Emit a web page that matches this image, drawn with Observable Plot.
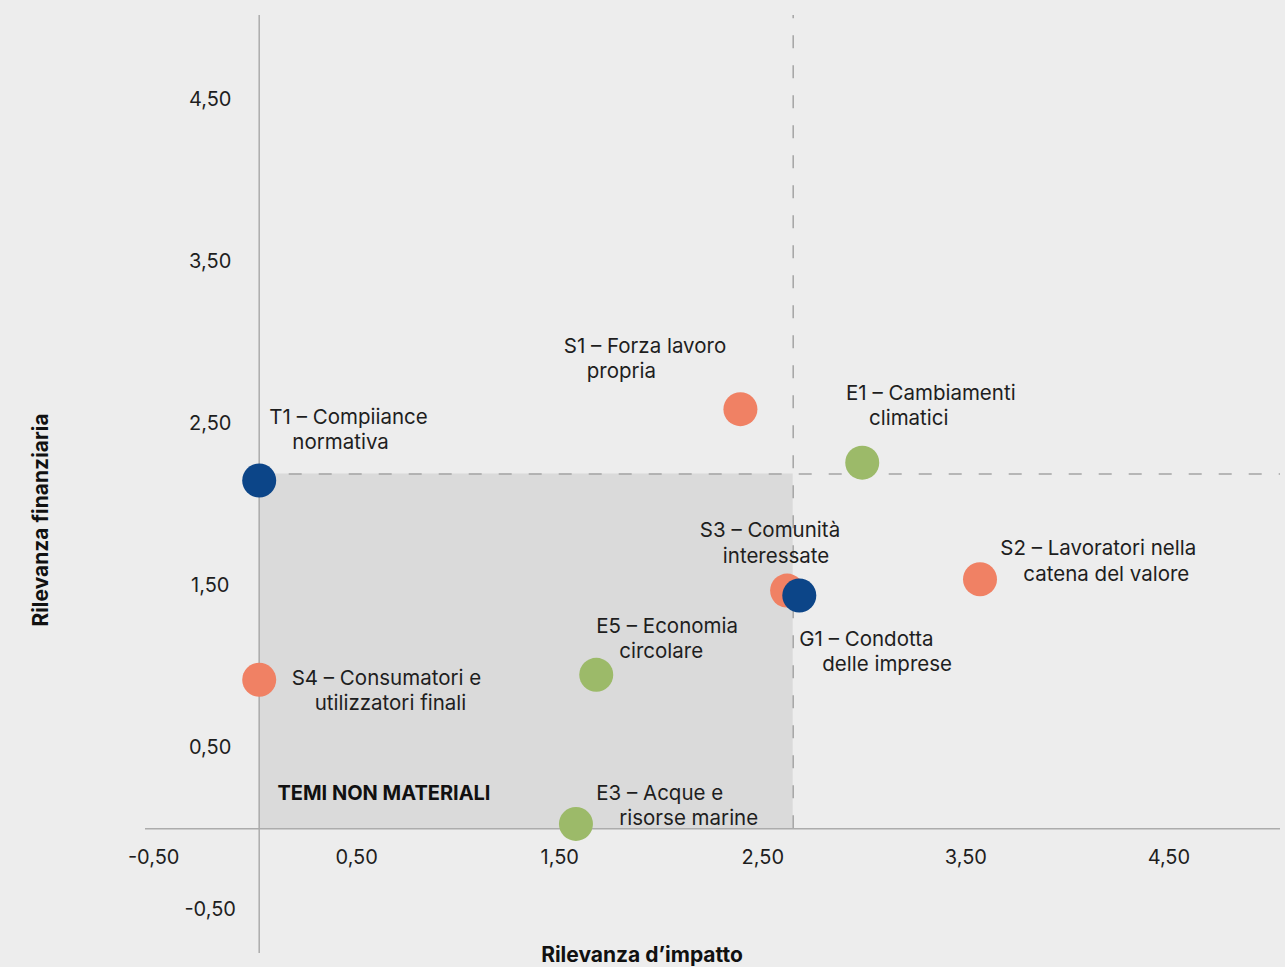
<!DOCTYPE html>
<html><head><meta charset="utf-8">
<script src="https://cdn.jsdelivr.net/npm/d3@7"></script>
<script src="https://cdn.jsdelivr.net/npm/@observablehq/plot@0.6"></script>
<style>
html,body{margin:0;padding:0;background:#ededed;}
#chart svg{display:block;}
</style></head><body><div id="chart"></div>
<script>
// Topics
const codes   = ["T1","S1","E1","S3","G1","S2","S4","E5","E3"];
const groups  = ["T","S","E","S","G","S","S","E","E"];
const line1   = ["T1 – Compiiance","S1 – Forza lavoro","E1 – Cambiamenti","S3 – Comunità","G1 – Condotta","S2 – Lavoratori nella","S4 – Consumatori e","E5 – Economia","E3 – Acque e"];
const line2   = ["normativa","propria","climatici","interessate","delle imprese","catena del valore","utilizzatori finali","circolare","risorse marine"];
// Rilevanza d'impatto (x) and Rilevanza finanziaria (y)
const impatto     = [0.00, 2.37, 2.97, 2.60, 2.66, 3.55, 0.00, 1.66, 1.56];
const finanziaria = [2.15, 2.59, 2.26, 1.47, 1.44, 1.54, 0.92, 0.95, 0.03];
// label anchor (data units)
const labelX = [0.05, 1.50, 2.89, 2.17, 2.66, 3.65, 0.16, 1.66, 1.66];
const labelY = [2.54, 2.98, 2.69, 1.84, 1.17, 1.73, 0.93, 1.25, 0.22];
// materiality thresholds
const thresholdX = 2.63;
const thresholdY = 2.19;
// axis extent
const xDomain = [-0.56, 5.03];
const yDomain = [-0.77, 5.02];
const xTicks = [-0.5, 0.5, 1.5, 2.5, 3.5, 4.5];
const yTicks = [-0.5, 0.5, 1.5, 2.5, 3.5, 4.5];
const groupDomain = ["E","S","G","T"];
const groupColors = ["#9cba69","#f08164","#0c4588","#0c4588"];

const rows = codes.map((c,i)=>({code:c, g:groups[i], l1:line1[i], l2:line2[i], x:impatto[i], y:finanziaria[i], lx:labelX[i], ly:labelY[i]}));
const fmt = v => v.toFixed(2).replace(".", ",");
const FONT = "Inter, 'Noto Sans', sans-serif";
const textColor = "#1e1e1e";

const svg = Plot.plot({
  width: 1285, height: 967,
  marginLeft: 145, marginRight: 5, marginTop: 15, marginBottom: 14,
  x: {domain: xDomain, axis: null},
  y: {domain: yDomain, axis: null},
  color: {domain: groupDomain, range: groupColors},
  style: {background: "#ededed", fontFamily: FONT},
  marks: [
    Plot.rect([{t1: thresholdX, t2: thresholdY}], {x1: 0, x2: "t1", y1: 0, y2: "t2", fill: "#dadada"}),
    Plot.ruleX([thresholdX], {y1: 0, y2: yDomain[1], stroke: "#a4a4a4", strokeWidth: 1.5, strokeDasharray: "13,17"}),
    Plot.ruleY([thresholdY], {x1: 0, x2: xDomain[1], stroke: "#a4a4a4", strokeWidth: 1.5, strokeDasharray: "13,17"}),
    Plot.ruleY([0], {stroke: "#acacac", strokeWidth: 1.5}),
    Plot.ruleX([0], {stroke: "#acacac", strokeWidth: 1.5}),
    Plot.text(xTicks, {x: d => d, y: 0, text: fmt, dx: -4, dy: 29, textAnchor: "middle", fontSize: 20, fill: textColor}),
    Plot.text(yTicks, {x: 0, y: d => d, text: fmt, dx: -49, textAnchor: "middle", fontSize: 20, fill: textColor}),
    Plot.text(["TEMI NON MATERIALI"], {x: 0.09, y: 0.22, text: d => d, textAnchor: "start", fontSize: 20, fontWeight: 700, fill: "#111"}),
    Plot.dot(rows, {x: "x", y: "y", r: 17, fill: "g", stroke: null}),
    Plot.text(rows, {x: "lx", y: "ly", text: "l1", textAnchor: "start", fontSize: 20.5, fill: textColor}),
    Plot.text(rows, {x: "lx", y: "ly", text: "l2", textAnchor: "start", dx: 23, dy: 25.5, fontSize: 20.5, fill: textColor})
  ]
});

const s = d3.select(svg);
s.append("text").attr("x", 642).attr("y", 962).attr("text-anchor", "middle")
  .attr("font-family", FONT).attr("font-size", 21).attr("font-weight", 700).attr("fill", "#111")
  .text("Rilevanza d’impatto");
s.append("text").attr("transform", "translate(48,520) rotate(-90)").attr("text-anchor", "middle")
  .attr("font-family", FONT).attr("font-size", 21).attr("font-weight", 700).attr("fill", "#111")
  .text("Rilevanza finanziaria");

document.getElementById("chart").appendChild(svg);
</script>
</body></html>
